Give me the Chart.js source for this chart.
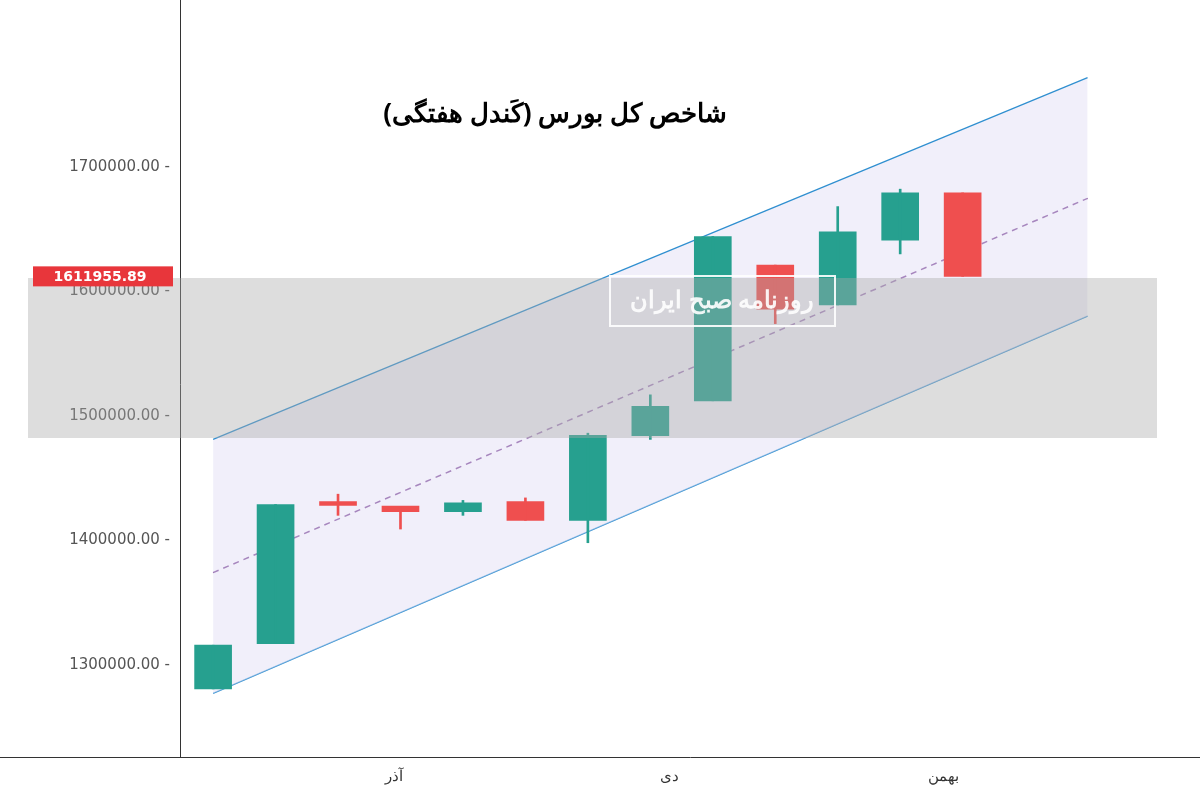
<!DOCTYPE html>
<html><head><meta charset="utf-8">
<script src="https://cdn.jsdelivr.net/npm/chart.js@4"></script>
<style>html,body{margin:0;background:#fff}#w{width:1200px;height:789px}</style></head>
<body><div id="w"><canvas id="c"></canvas></div>
<script>
const opens  = [1280600,1317000,1431000,1425000,1423000,1431000,1416000,1484000,1512000,1621000,1589000,1641000,1679000];
const closes = [1315700,1428700,1428000,1423000,1430000,1416000,1484300,1507600,1644000,1585700,1647800,1679000,1611956];
const highs  = [1315700,1428700,1437000,1426000,1432000,1434000,1486000,1516800,1644000,1621000,1668000,1682000,1679000];
const lows   = [1280600,1317000,1420000,1409000,1420000,1416000,1398000,1481000,1512000,1574000,1589000,1630000,1611956];
const monthLabels = ['آذر','دی','بهمن'];
const monthPos = [2.9,7.3,11.7];
const chanX = [0,14];
const upperLine = [1481000,1771600];
const midLine = [1374000,1674600];
const lowerLine = [1277000,1580000];
const lastPrice = '1611955.89';
const title = 'شاخص کل بورس (کَندل هفتگی)';

const col = (i)=> closes[i]>=opens[i] ? '#26a08f' : '#ef4f4f';
const idx = opens.map((_,i)=>i);
const bg = {id:'bg',afterDatasetsDraw(ch){
  const c=ch.ctx; c.save();
  c.fillStyle='rgba(170,170,170,0.4)'; c.fillRect(28,278,1129,160);
  c.strokeStyle='rgba(255,255,255,0.9)'; c.lineWidth=2; c.strokeRect(610,276,225,50);
  c.fillStyle='rgba(255,255,255,0.9)'; c.font='bold 24px "Noto Sans"'; c.textAlign='center'; c.textBaseline='middle';
  c.fillText('روزنامه صبح ایران',722,301);
  c.restore();
},afterDraw(ch){
  const c=ch.ctx; c.save();
  const y=ch.scales.y.getPixelForValue(1611956);
  c.fillStyle='#e8363b'; c.fillRect(33,y-10,140,20);
  c.fillStyle='#fff'; c.font='bold 14px "DejaVu Sans"'; c.textAlign='center'; c.textBaseline='middle';
  c.fillText(lastPrice,100,y+1);
  c.fillStyle='#000'; c.font='bold 26px "Noto Sans"'; c.fillText(title,555,115);
  c.strokeStyle='#333'; c.lineWidth=1; c.beginPath();
  const b=ch.chartArea.bottom+0.5; c.moveTo(0,b); c.lineTo(180,b);
  c.moveTo(180.5,0); c.lineTo(180.5,ch.chartArea.top); c.stroke();
  c.restore();
}};
new Chart(document.getElementById('c'),{
  data:{datasets:[
    {type:'line',order:2,data:chanX.map((x,i)=>({x,y:upperLine[i]})),borderColor:'#2f8fd0',borderWidth:1.2,pointRadius:0,fill:'+2',backgroundColor:'rgba(228,224,245,0.5)'},
    {type:'line',order:2,data:chanX.map((x,i)=>({x,y:midLine[i]})),borderColor:'#6a2d86',borderWidth:1.5,borderDash:[6,5],pointRadius:0,fill:false},
    {type:'line',order:2,data:chanX.map((x,i)=>({x,y:lowerLine[i]})),borderColor:'#2f8fd0',borderWidth:1.2,pointRadius:0,fill:false},
    {type:'bar',order:0,data:idx.map(i=>({x:i,y:[lows[i],highs[i]]})),backgroundColor:idx.map(col),barThickness:2,grouped:false},
    {type:'bar',order:0,data:idx.map(i=>({x:i,y:[Math.min(opens[i],closes[i]),Math.max(opens[i],closes[i])+(Math.abs(opens[i]-closes[i])<3000?2500:0)]})),backgroundColor:idx.map(col),barThickness:37,grouped:false}
  ]},
  plugins:[bg],
  options:{responsive:true,maintainAspectRatio:false,animation:false,
    plugins:{legend:{display:false},tooltip:{enabled:false}},
    scales:{
      x:{type:'linear',offset:false,min:-0.53,max:15.8,grid:{display:false},border:{color:'#333',width:1},
        afterBuildTicks(s){s.ticks=monthPos.map(v=>({value:v}));},
        ticks:{callback:(v)=>monthLabels[monthPos.indexOf(v)],color:'#333',font:{size:15,family:'Noto Sans'}}},
      y:{min:1225900,max:1825100,grid:{display:false},border:{color:'#333',width:1},
        afterFit(s){s.width=180;},
        afterBuildTicks(s){s.ticks=[1300000,1400000,1500000,1600000,1700000].map(v=>({value:v}));},
        ticks:{callback:v=>v.toFixed(2)+' -',color:'#555',font:{size:15,family:'DejaVu Sans'},padding:2}}
    }}
});
</script></body></html>
